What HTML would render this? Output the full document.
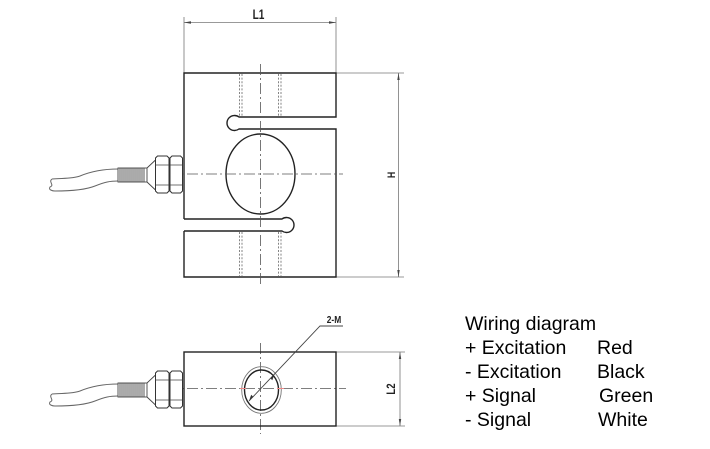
<!DOCTYPE html>
<html>
<head>
<meta charset="utf-8">
<style>
html,body{margin:0;padding:0;background:#fff;}
svg{display:block;}
.t{font-family:"Liberation Sans",Arial,sans-serif;font-size:19.5px;fill:#000;}
.cad{font-family:"Liberation Sans",Arial,sans-serif;font-weight:bold;fill:#222;}
</style>
</head>
<body>
<svg width="710" height="449" viewBox="0 0 710 449" xmlns="http://www.w3.org/2000/svg">
<defs>
  <g id="conn">
    <!-- cable -->
    <path d="M52,179 C62,178 72,179 80,176 C92,171 104,169 118,169" fill="none" stroke="#666" stroke-width="1"/>
    <path d="M55,191 C70,191 85,190 95,186 C105,182 110,181 118,181" fill="none" stroke="#666" stroke-width="1"/>
    <path d="M52,179 C48,182 55,185 50,187 C48,190 53,191 55,191" fill="none" stroke="#666" stroke-width="1"/>
    <!-- thread -->
    <rect x="118" y="168" width="29" height="14" fill="#fff" stroke="#444" stroke-width="0.9"/>
    <g stroke="#444" stroke-width="0.9">
      <line x1="120" y1="168" x2="120" y2="182"/><line x1="122" y1="168" x2="122" y2="182"/>
      <line x1="124" y1="168" x2="124" y2="182"/><line x1="126" y1="168" x2="126" y2="182"/>
      <line x1="128" y1="168" x2="128" y2="182"/><line x1="130" y1="168" x2="130" y2="182"/>
      <line x1="132" y1="168" x2="132" y2="182"/><line x1="134" y1="168" x2="134" y2="182"/>
      <line x1="136" y1="168" x2="136" y2="182"/><line x1="138" y1="168" x2="138" y2="182"/>
      <line x1="140" y1="168" x2="140" y2="182"/><line x1="142" y1="168" x2="142" y2="182"/>
      <line x1="144" y1="168" x2="144" y2="182"/>
    </g>
    <!-- cone -->
    <path d="M147,168 L155.5,160 M147,182 L155.5,190" stroke="#444" stroke-width="0.9" fill="none"/>
    <!-- nuts -->
    <path d="M157.5,156 H167 L169,158 V191 L167,193 H157.5 L155.5,191 V158 Z" fill="#fff" stroke="#333" stroke-width="1"/>
    <path d="M172,156 H180.5 L182.5,158 V191 L180.5,193 H172 L170,191 V158 Z" fill="#fff" stroke="#333" stroke-width="1"/>
    <path d="M155.5,165 H169 M155.5,185 H169 M170,165 H182.5 M170,185 H182.5" stroke="#444" stroke-width="0.8"/>
  </g>
</defs>

<!-- dimensions -->
<g stroke="#777" stroke-width="0.8" fill="none">
  <line x1="184" y1="17" x2="184" y2="73"/>
  <line x1="336" y1="17" x2="336" y2="73"/>
  <line x1="184" y1="22.5" x2="336" y2="22.5"/>
  <line x1="336" y1="73" x2="404" y2="73"/>
  <line x1="336" y1="277" x2="404" y2="277"/>
  <line x1="398.5" y1="73" x2="398.5" y2="277"/>
  <line x1="336" y1="352" x2="405" y2="352"/>
  <line x1="336" y1="426" x2="405" y2="426"/>
  <line x1="400" y1="352" x2="400" y2="426"/>
</g>
<g fill="#444">
  <path d="M184,22.5 l7,-1.2 v2.4 z"/>
  <path d="M336,22.5 l-7,-1.2 v2.4 z"/>
  <path d="M398.5,73 l-1.2,7 h2.4 z"/>
  <path d="M398.5,277 l-1.2,-7 h2.4 z"/>
  <path d="M400,352 l-1.2,7 h2.4 z"/>
  <path d="M400,426 l-1.2,-7 h2.4 z"/>
</g>
<text x="258.5" y="19" class="cad" font-size="13.5" text-anchor="middle" transform="translate(258.5 0) scale(0.75 1) translate(-258.5 0)">L1</text>
<text class="cad" font-size="11" text-anchor="middle" transform="translate(395 175) rotate(-90) scale(0.8 1)">H</text>
<text class="cad" font-size="12" text-anchor="middle" transform="translate(395 389) rotate(-90) scale(0.8 1)">L2</text>

<!-- body outline -->
<g stroke="#222" stroke-width="1.4" fill="none" stroke-linejoin="miter">
  <path d="M184,219 V73 H336 V117 H239 A7.5,7.5 0 1 0 239,129 H336 V277 H184 V231"/>
  <path d="M184,219 H282 A7.5,7.5 0 1 1 282,231 H184"/>
  <ellipse cx="260.5" cy="174" rx="34.5" ry="40"/>
</g>
<!-- hidden lines -->
<g stroke="#666" stroke-width="0.8" stroke-dasharray="2 1.6" fill="none">
  <path d="M239.5,74 V116 M242,74 V116 M278.5,74 V116 M281,74 V116"/>
  <path d="M239.5,232 V276 M242,232 V276 M278.5,232 V276 M281,232 V276"/>
</g>
<!-- center lines -->
<g stroke="#555" stroke-width="0.8" stroke-dasharray="11 3 2 3" fill="none">
  <line x1="260.5" y1="64" x2="260.5" y2="286"/>
  <line x1="168" y1="174" x2="343" y2="174"/>
  <line x1="260.5" y1="343" x2="260.5" y2="434"/>
  <line x1="168" y1="388.5" x2="346" y2="388.5"/>
</g>
<use href="#conn"/>

<!-- bottom view -->
<rect x="184" y="352" width="152" height="74" fill="none" stroke="#222" stroke-width="1.4"/>
<ellipse cx="261.5" cy="390" rx="19.8" ry="23.3" fill="none" stroke="#777" stroke-width="0.9"/>
<ellipse cx="261.5" cy="390" rx="17" ry="20" fill="none" stroke="#222" stroke-width="1.4"/>
<g stroke="#e88" stroke-width="1">
  <line x1="240" y1="388.5" x2="246" y2="388.5"/>
  <line x1="277" y1="388.5" x2="284" y2="388.5"/>
</g>
<path d="M249,401 L320,326 H343" fill="none" stroke="#444" stroke-width="0.9"/>
<path d="M249,401 l2.2,-6.2 l2,1.9 z M274.5,374 l-2.2,6.2 l-2,-1.9 z" fill="#333"/>
<text x="334" y="323" class="cad" font-size="10.5" text-anchor="middle" transform="translate(334 0) scale(0.8 1) translate(-334 0)">2-M</text>

<g transform="translate(0,215)"><use href="#conn"/></g>

<!-- wiring text -->
<text x="465" y="330" class="t">Wiring diagram</text>
<text x="465" y="354" class="t">+ Excitation</text>
<text x="597" y="354" class="t">Red</text>
<text x="465" y="378" class="t">- Excitation</text>
<text x="597" y="378" class="t">Black</text>
<text x="465" y="402" class="t">+ Signal</text>
<text x="599" y="402" class="t">Green</text>
<text x="465" y="426" class="t">- Signal</text>
<text x="598" y="426" class="t">White</text>
</svg>
</body>
</html>
